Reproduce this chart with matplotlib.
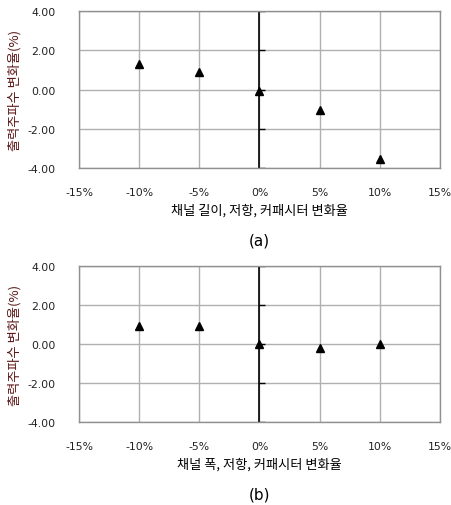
import numpy as np
import matplotlib.pyplot as plt
from matplotlib.lines import TICKRIGHT

plt.rcParams['font.family'] = ['Noto Sans CJK KR', 'DejaVu Sans']

x_pct = [-10, -5, 0, 5, 10]
freq_len = [1.3, 0.9, -0.05, -1.05, -3.55]
freq_wid = [0.95, 0.95, -0.02, -0.2, 0.0]

xticks = [-15, -10, -5, 0, 5, 10, 15]
yticks = [-4, -2, 0, 2, 4]
ylabel = "출력주파수 변화율(%)"
xlabels = ["채널 길이, 저항, 커패시터 변화율", "채널 폭, 저항, 커패시터 변화율"]
tags = ["(a)", "(b)"]

fig = plt.figure(figsize=(4.52, 5.06), dpi=100)
boxes = [[0.175, 0.666, 0.798, 0.310], [0.175, 0.164, 0.798, 0.308]]
series = [freq_len, freq_wid]

for box, ys, xl, tag in zip(boxes, series, xlabels, tags):
    ax = fig.add_axes(box)
    ax.set_xlim(-15, 15)
    ax.set_ylim(-4, 4)
    ax.set_xticks(xticks)
    ax.set_yticks(yticks)
    ax.set_xticklabels([f"{t}%" for t in xticks], family=['DejaVu Sans'])
    ax.set_yticklabels([f"{t:.2f}" for t in yticks], family=['DejaVu Sans'])
    ax.tick_params(length=0, labelsize=7.8, colors='#222222')
    ax.tick_params(axis='x', pad=14)
    ax.tick_params(axis='y', pad=17)
    ax.grid(True, color='#b0b0b0', lw=1.0)
    ax.set_axisbelow(True)
    for s in ax.spines.values():
        s.set_color('#909090')
        s.set_linewidth(1.0)
    # y axis crossing at 0%
    ax.axvline(0, color='black', lw=1.2, zorder=2)
    ax.plot([0] * len(yticks), yticks, ls='none', marker=TICKRIGHT,
            ms=4, mew=1.0, color='black', zorder=2)
    ax.plot(x_pct, ys, ls='none', marker='^', ms=5.5, color='black', zorder=3)
    ax.set_xlabel(xl, fontsize=9.5, labelpad=4)
    ax.set_ylabel(ylabel, fontsize=9.5, color='#5a1414', labelpad=4)
    ax.text(0.5, -0.46, tag, transform=ax.transAxes, ha='center', va='center',
            fontsize=11, family=['DejaVu Sans'])

fig.savefig('out.png', dpi=100)
